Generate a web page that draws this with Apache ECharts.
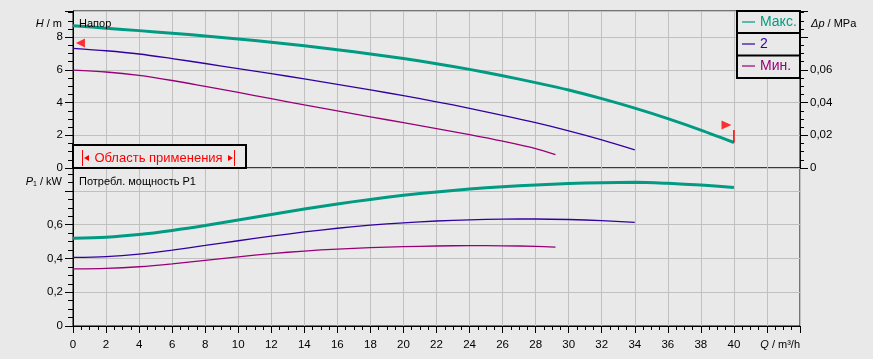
<!DOCTYPE html>
<html><head><meta charset="utf-8">
<script src="https://cdn.jsdelivr.net/npm/echarts@6/dist/echarts.min.js"></script>
<style>html,body{margin:0;padding:0;background:#e9e9e9}#c{width:873px;height:359px}</style>
</head><body><div id="c"></div>
<script>
// ---- data ----
const seriesNames = ['Макс.', '2', 'Мин.'];
const qMax = [0,2,4,6,8,10,12,14,16,18,20,22,24,26,28,30,32,34,36,38,40];
const hMax = [8.70,8.55,8.40,8.24,8.07,7.89,7.69,7.47,7.23,6.97,6.69,6.38,6.03,5.64,5.22,4.77,4.24,3.66,3.02,2.32,1.56];
const pMax = [0.520,0.526,0.542,0.566,0.595,0.628,0.661,0.693,0.723,0.750,0.774,0.794,0.811,0.825,0.836,0.844,0.849,0.851,0.845,0.835,0.821];
const q2 = [0,2,4,6,8,10,12,14,16,18,20,22,24,26,28,30,32,34];
const h2 = [7.32,7.17,6.97,6.69,6.39,6.08,5.77,5.45,5.12,4.78,4.42,4.05,3.65,3.22,2.77,2.27,1.72,1.11];
const p2 = [0.406,0.411,0.426,0.450,0.477,0.505,0.532,0.557,0.579,0.597,0.611,0.622,0.629,0.633,0.634,0.631,0.624,0.614];
const qMin = [0,2,4,6,8,10,12,14,16,18,20,22,24,26,28,29.2];
const hMin = [5.98,5.87,5.66,5.35,4.99,4.62,4.24,3.86,3.49,3.13,2.77,2.41,2.04,1.64,1.19,0.82];
const pMin = [0.338,0.341,0.351,0.368,0.389,0.410,0.429,0.444,0.456,0.464,0.470,0.474,0.476,0.475,0.472,0.467];
const flagLeft = [[0.45, 7.65]];
const flagRight = [[39.55, 2.63]];
const flagPole = [[40, 1.56], [40, 2.32]];
const xTicks = [0,2,4,6,8,10,12,14,16,18,20,22,24,26,28,30,32,34,36,38,40];
const hTicks = [0,2,4,6,8];
const dpTicks = [0,0.02,0.04,0.06];
const pTicks = [0,0.2,0.4,0.6];

const C = ['#009b82', '#3300a0', '#990077'];
const BG = '#e9e9e9';
const GRID = '#c0c0c0';
const FONT = 'Liberation Sans, Arial, sans-serif';
const pairs = (xs, ys) => xs.map((x, i) => [x, ys[i]]);
const near = (v, arr) => arr.some(t => Math.abs(t - v) < 1e-6);

const chart = echarts.init(document.getElementById('c'), null, {renderer: 'canvas'});

const lbl = {color: '#000', fontSize: 11.5, fontFamily: FONT};
const tickStyle = {color: '#000', width: 1};

function yMajor(grid, pos, max, interval, ticks, fmt, split) {
  return {
    type: 'value', gridIndex: grid, position: pos, min: 0, max: max, interval: interval,
    axisLine: {show: true, lineStyle: {color: '#000', width: 1}},
    axisTick: {show: true, length: 8, lineStyle: tickStyle},
    axisLabel: Object.assign({margin: 10, formatter: v => near(v, ticks) ? fmt(v) : ''}, lbl),
    splitLine: {show: split, lineStyle: {color: GRID, width: 1}}
  };
}
function yMinor(grid, pos, max, interval, len) {
  return {
    type: 'value', gridIndex: grid, position: pos, min: 0, max: max, interval: interval,
    axisLine: {show: false}, axisTick: {show: true, length: len, lineStyle: tickStyle},
    axisLabel: {show: false}, splitLine: {show: false}
  };
}
const comma = (v, d) => v === 0 ? '0' : v.toFixed(d).replace('.', ',');

function lineSeries(name, x, y, data, width, color) {
  return {
    name: name, type: 'line', xAxisIndex: x, yAxisIndex: y, data: data,
    showSymbol: false, symbol: 'none', smooth: 0.3,
    lineStyle: {width: width, color: color}, itemStyle: {color: color}, z: 3
  };
}

const option = {
  backgroundColor: BG,
  animation: false,
  textStyle: {fontFamily: FONT},
  grid: [
    {left: 73, top: 11, width: 727, height: 157, show: true, borderColor: '#000', borderWidth: 1, backgroundColor: 'transparent'},
    {left: 73, top: 168, width: 727, height: 158, show: true, borderColor: '#000', borderWidth: 1, backgroundColor: 'transparent'}
  ],
  xAxis: [
    {type: 'value', gridIndex: 0, min: 0, max: 44, interval: 2,
     axisLine: {show: false}, axisTick: {show: false}, axisLabel: {show: false},
     splitLine: {show: true, lineStyle: {color: GRID, width: 1}}},
    {type: 'value', gridIndex: 1, min: 0, max: 44, interval: 2,
     axisLine: {show: true, lineStyle: {color: '#000', width: 1}},
     axisTick: {show: true, length: 7, lineStyle: tickStyle},
     minorTick: {show: true, splitNumber: 4, length: 4, lineStyle: tickStyle},
     axisLabel: Object.assign({margin: 13, formatter: v => near(v, xTicks) ? String(v) : ''}, lbl),
     splitLine: {show: true, lineStyle: {color: GRID, width: 1}}}
  ],
  yAxis: [
    yMajor(0, 'left', 9.6, 2, hTicks, v => String(v), true),
    yMinor(0, 'left', 9.6, 0.5, 5),
    yMajor(0, 'right', 0.096, 0.02, dpTicks, v => comma(v, 2), false),
    yMinor(0, 'right', 0.096, 0.005, 4),
    yMajor(1, 'left', 0.936, 0.2, pTicks, v => comma(v, 1), true),
    yMinor(1, 'left', 0.936, 0.05, 5)
  ],
  legend: {
    orient: 'vertical', left: 742, top: 14, padding: 0, itemWidth: 13, itemHeight: 1.2, itemGap: 6,
    icon: 'rect', selectedMode: false, z: 30,
    data: seriesNames.map((n, i) => ({name: n, itemStyle: {color: C[i]}, textStyle: {color: C[i]}})),
    textStyle: {fontSize: 14, fontFamily: FONT, lineHeight: 16}
  },
  series: [
    lineSeries(seriesNames[0], 0, 0, pairs(qMax, hMax), 3, C[0]),
    lineSeries(seriesNames[1], 0, 0, pairs(q2, h2), 1.3, C[1]),
    lineSeries(seriesNames[2], 0, 0, pairs(qMin, hMin), 1.3, C[2]),
    lineSeries(seriesNames[0], 1, 4, pairs(qMax, pMax), 3, C[0]),
    lineSeries(seriesNames[1], 1, 4, pairs(q2, p2), 1.3, C[1]),
    lineSeries(seriesNames[2], 1, 4, pairs(qMin, pMin), 1.3, C[2]),
    {type: 'scatter', xAxisIndex: 0, yAxisIndex: 0, data: flagLeft, symbol: 'triangle', symbolRotate: 90,
     symbolSize: [9, 9], itemStyle: {color: '#ff0000'}, z: 5, silent: true},
    {type: 'scatter', xAxisIndex: 0, yAxisIndex: 0, data: flagRight, symbol: 'triangle', symbolRotate: -90,
     symbolSize: [9, 10], itemStyle: {color: '#ff0000'}, z: 5, silent: true},
    {type: 'line', xAxisIndex: 0, yAxisIndex: 0, data: flagPole, showSymbol: false, symbol: 'none',
     lineStyle: {color: '#ff0000', width: 1.5}, z: 5, silent: true}
  ],
  graphic: [
    // legend frame
    {type: 'rect', z: 20, shape: {x: 737, y: 11, width: 63, height: 67}, style: {fill: BG, stroke: '#000', lineWidth: 2}},
    {type: 'line', z: 21, shape: {x1: 737, y1: 33, x2: 800, y2: 33}, style: {stroke: '#000', lineWidth: 2}},
    {type: 'line', z: 21, shape: {x1: 737, y1: 55.5, x2: 800, y2: 55.5}, style: {stroke: '#000', lineWidth: 2}},
    // application range box
    {type: 'rect', z: 20, shape: {x: 73, y: 145, width: 173, height: 23}, style: {fill: BG, stroke: '#000', lineWidth: 2}},
    {type: 'line', z: 21, shape: {x1: 82.5, y1: 150, x2: 82.5, y2: 166}, style: {stroke: '#ff0000', lineWidth: 1}},
    {type: 'polygon', z: 21, shape: {points: [[84, 158], [89, 155], [89, 161]]}, style: {fill: '#ff0000'}},
    {type: 'polygon', z: 21, shape: {points: [[233, 158], [228, 155], [228, 161]]}, style: {fill: '#ff0000'}},
    {type: 'line', z: 21, shape: {x1: 234.5, y1: 150, x2: 234.5, y2: 166}, style: {stroke: '#ff0000', lineWidth: 1}},
    {type: 'text', z: 21, x: 158.5, y: 158, style: {text: 'Область применения', fill: '#ff0000', font: '13px ' + FONT, align: 'center', verticalAlign: 'middle'}},
    // panel titles
    {type: 'text', z: 21, x: 79, y: 24, style: {text: 'Напор', fill: '#000', font: '11px ' + FONT, verticalAlign: 'middle'}},
    {type: 'text', z: 21, x: 79, y: 182, style: {text: 'Потребл. мощность P1', fill: '#000', font: '11px ' + FONT, verticalAlign: 'middle'}},
    // axis names
    {type: 'text', z: 21, x: 62, y: 24, style: {text: '{i|H} / m', align: 'right', verticalAlign: 'middle', fill: '#000', font: '11px ' + FONT,
      rich: {i: {fontStyle: 'italic', fontSize: 11, fontFamily: FONT, fill: '#000'}}}},
    {type: 'text', z: 21, x: 62, y: 182, style: {text: '{i|P}{s|1} / kW', align: 'right', verticalAlign: 'middle', fill: '#000', font: '11px ' + FONT,
      rich: {i: {fontStyle: 'italic', fontSize: 11, fontFamily: FONT, fill: '#000'}, s: {fontSize: 7, fontFamily: FONT, fill: '#000', padding: [4, 0, 0, 0]}}}},
    {type: 'text', z: 21, x: 811, y: 24, style: {text: '{i|Δp} / MPa', align: 'left', verticalAlign: 'middle', fill: '#000', font: '11px ' + FONT,
      rich: {i: {fontStyle: 'italic', fontSize: 11, fontFamily: FONT, fill: '#000'}}}},
    {type: 'text', z: 21, x: 800, y: 345, style: {text: '{i|Q} / m³/h', align: 'right', verticalAlign: 'middle', fill: '#000', font: '11px ' + FONT,
      rich: {i: {fontStyle: 'italic', fontSize: 11, fontFamily: FONT, fill: '#000'}}}}
  ]
};
chart.setOption(option);
</script></body></html>
